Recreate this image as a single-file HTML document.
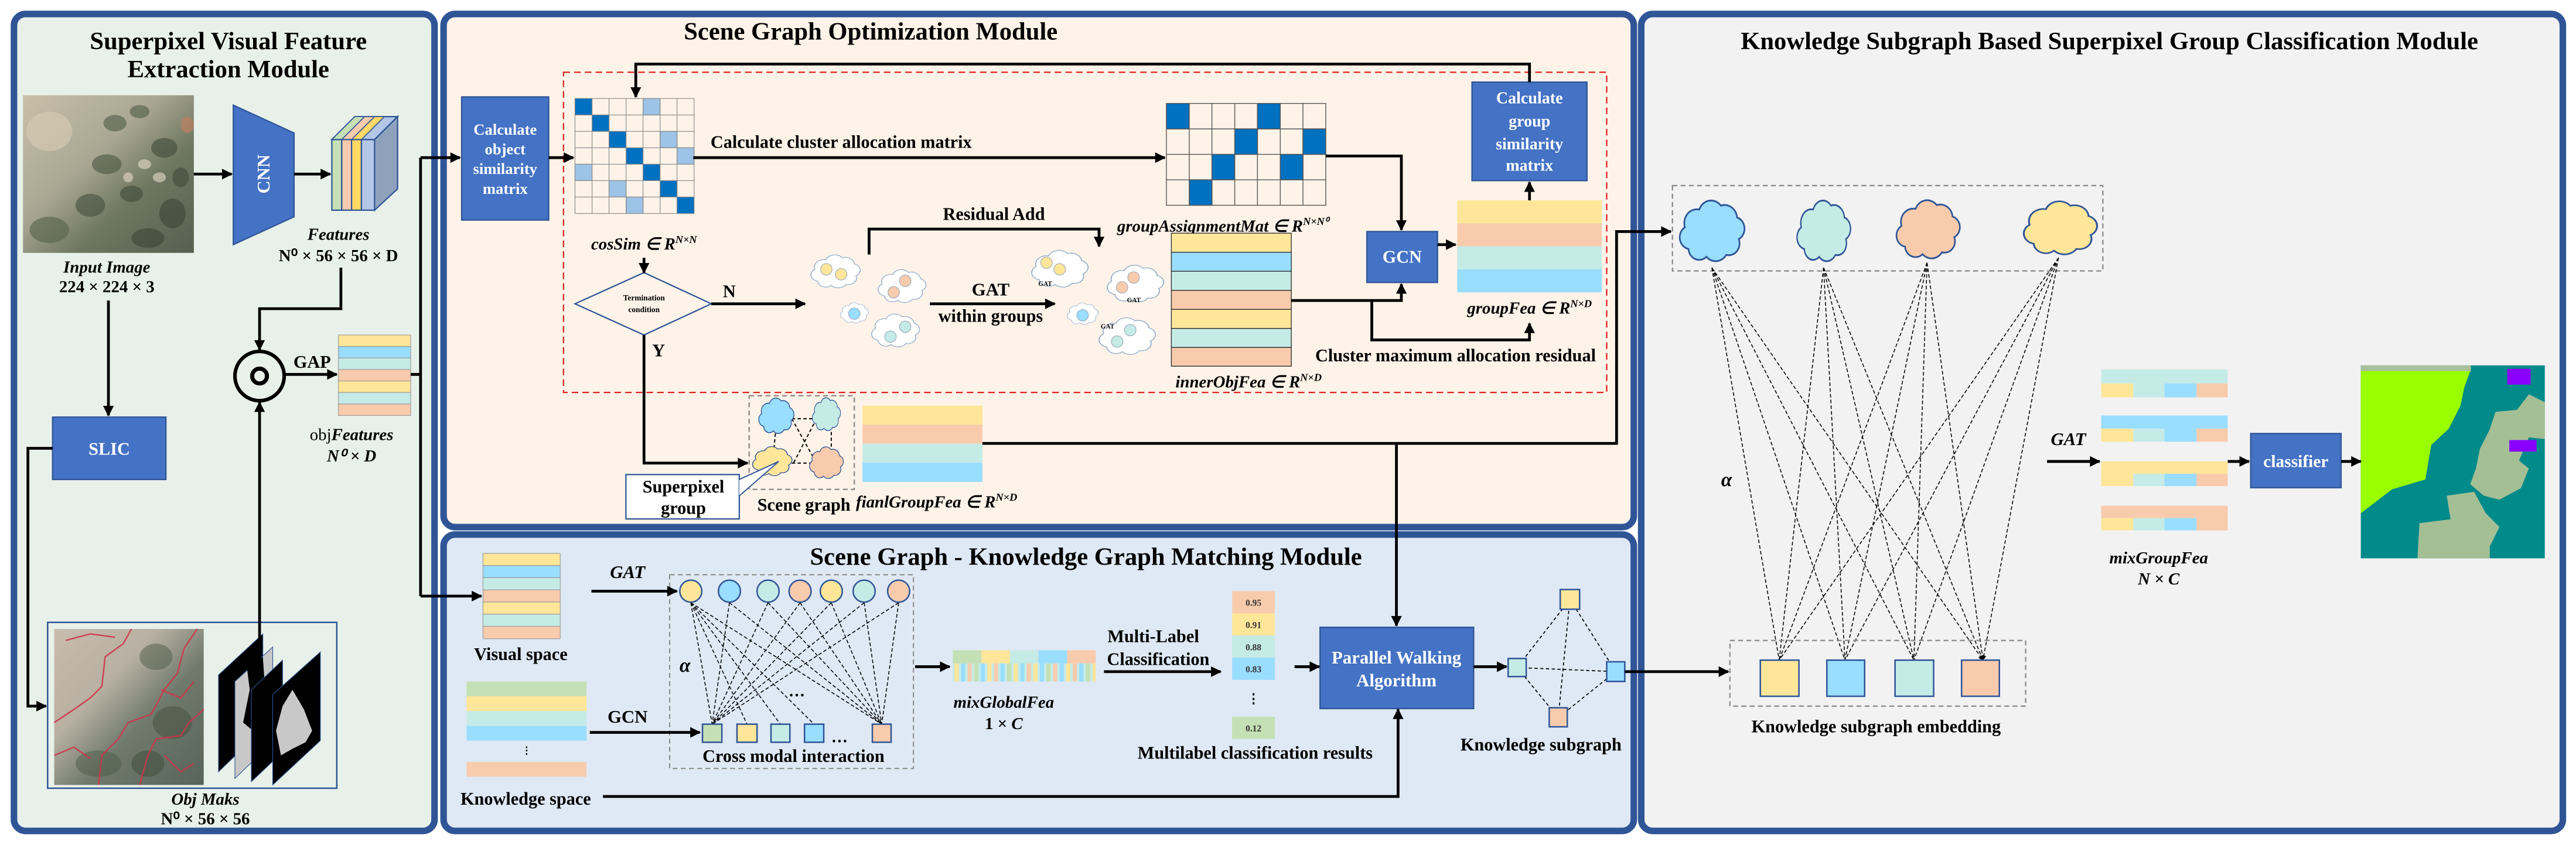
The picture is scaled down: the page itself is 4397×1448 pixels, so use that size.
<!DOCTYPE html>
<html><head><meta charset="utf-8"><style>
html,body{margin:0;padding:0;background:#fff;}
svg{display:block;}
text{font-family:"Liberation Serif",serif;font-weight:bold;}
.it{font-style:italic;}
.w{fill:#fff;}
</style></head><body>
<svg width="4397" height="1448" viewBox="0 0 1568 516.4" preserveAspectRatio="none" xmlns="http://www.w3.org/2000/svg">
<defs>
<marker id="ah" viewBox="0 0 10 10" refX="9" refY="5" markerWidth="7" markerHeight="6.5" markerUnits="userSpaceOnUse" orient="auto"><path d="M0,0 L10,5 L0,10 z" fill="#000"/></marker>
<marker id="as" viewBox="0 0 10 10" refX="9" refY="5" markerWidth="3.5" markerHeight="3" markerUnits="userSpaceOnUse" orient="auto"><path d="M0,0 L10,5 L0,10 z" fill="#000"/></marker>
<symbol id="cloud" viewBox="0 0 42 40" preserveAspectRatio="none"><path d="M8,28 a6,6 0 0,1 -2,-11 a7,7 0 0,1 8,-9 a7,7 0 0,1 12,-2 a7,7 0 0,1 9,6 a6,6 0 0,1 1,11 a6,6 0 0,1 -7,8 a7,7 0 0,1 -11,1 a6,6 0 0,1 -10,-4 z"/></symbol>
<linearGradient id="aer" x1="0" y1="0" x2="1" y2="1"><stop offset="0" stop-color="#C9BFA8"/><stop offset="0.4" stop-color="#A9A793"/><stop offset="0.65" stop-color="#6E7761"/><stop offset="1" stop-color="#56604F"/></linearGradient>
<linearGradient id="aer2" x1="0" y1="0" x2="1" y2="1"><stop offset="0" stop-color="#C8BCAE"/><stop offset="0.35" stop-color="#B8B0A2"/><stop offset="0.6" stop-color="#6F7A6C"/><stop offset="1" stop-color="#58645A"/></linearGradient>
</defs>

<!-- Panels -->
<rect x="8.5" y="8.5" width="256" height="497.5" rx="7" fill="#E8F1E9" stroke="#2F5597" stroke-width="4"/>
<rect x="270" y="8.5" width="724.5" height="312.5" rx="7" fill="#FDF3E8" stroke="#2F5597" stroke-width="4"/>
<rect x="270" y="325.5" width="724.5" height="180.5" rx="7" fill="#DEE9F5" stroke="#2F5597" stroke-width="4"/>
<rect x="999" y="8.5" width="561" height="497.5" rx="7" fill="#F2F2F2" stroke="#2F5597" stroke-width="4"/>

<!-- Titles -->
<text x="139" y="30" font-size="15.2" text-anchor="middle">Superpixel  Visual Feature</text>
<text x="139" y="47" font-size="15.2" text-anchor="middle">Extraction Module</text>
<text x="530" y="24" font-size="15.2" text-anchor="middle">Scene Graph Optimization Module</text>
<text x="661" y="344" font-size="15.2" text-anchor="middle">Scene Graph - Knowledge Graph Matching Module</text>
<text x="1284" y="30" font-size="15.2" text-anchor="middle">Knowledge Subgraph Based Superpixel Group Classification Module</text>

<!-- ===== Panel 1 ===== -->
<rect x="14" y="58" width="104" height="96" fill="url(#aer)"/>
<g opacity="0.6">
<ellipse cx="70" cy="75" rx="7" ry="5" fill="#4F5C48"/><ellipse cx="85" cy="68" rx="6" ry="4" fill="#4F5C48"/>
<ellipse cx="100" cy="90" rx="8" ry="6" fill="#3F4B3A"/><ellipse cx="65" cy="100" rx="9" ry="6" fill="#4A5643"/>
<ellipse cx="80" cy="118" rx="7" ry="5" fill="#3F4B3A"/><ellipse cx="55" cy="125" rx="9" ry="7" fill="#45503F"/>
<ellipse cx="105" cy="130" rx="8" ry="9" fill="#3A4636"/><ellipse cx="30" cy="140" rx="12" ry="8" fill="#55604C"/>
<ellipse cx="90" cy="145" rx="10" ry="6" fill="#3A4636"/><ellipse cx="110" cy="108" rx="5" ry="6" fill="#3F4B3A"/>
<ellipse cx="88" cy="100" rx="4" ry="3" fill="#E6DCC8"/><ellipse cx="97" cy="108" rx="4" ry="3" fill="#E6DCC8"/>
<ellipse cx="78" cy="108" rx="3" ry="3" fill="#E6DCC8"/><ellipse cx="30" cy="80" rx="14" ry="12" fill="#D8CDB5"/>
<ellipse cx="114" cy="76" rx="4" ry="5" fill="#C88060"/>
</g>
<text x="65" y="166" font-size="10.3" text-anchor="middle" class="it">Input Image</text>
<text x="65" y="178" font-size="10.3" text-anchor="middle">224 × 224 × 3</text>

<polygon points="142,64 179,81 179,132 142,149" fill="#4472C4" stroke="#2F5597" stroke-width="0.8"/>
<text x="0" y="0" font-size="11" class="w" text-anchor="middle" dominant-baseline="central" transform="translate(160.5,106) rotate(-90)" font-weight="normal">CNN</text>

<!-- features block -->
<polygon points="202,85 216,71 242,71 228,85" fill="#B4C7E7" stroke="#2F5597" stroke-width="0.8"/>
<polygon points="202,85 216,71 222,71 208,85" fill="#C5E0B4" stroke="#2F5597" stroke-width="0.6"/>
<polygon points="208,85 222,71 228,71 214,85" fill="#F8CBAD" stroke="#2F5597" stroke-width="0.6"/>
<polygon points="214,85 228,71 234,71 220,85" fill="#FFD966" stroke="#2F5597" stroke-width="0.6"/>
<polygon points="228,85 242,71 242,115 228,128" fill="#8EA1BD" stroke="#2F5597" stroke-width="0.8"/>
<rect x="202" y="85" width="6" height="43" fill="#C5E0B4" stroke="#2F5597" stroke-width="0.8"/>
<rect x="208" y="85" width="6" height="43" fill="#F8CBAD" stroke="#2F5597" stroke-width="0.8"/>
<rect x="214" y="85" width="6" height="43" fill="#FFD966" stroke="#2F5597" stroke-width="0.8"/>
<rect x="220" y="85" width="8" height="43" fill="#B4C7E7" stroke="#2F5597" stroke-width="0.8"/>
<text x="206" y="146" font-size="10.3" text-anchor="middle" class="it">Features</text>
<text x="206" y="159" font-size="10.3" text-anchor="middle" font-weight="normal">N⁰ × 56 × 56 × D</text>

<circle cx="158" cy="229" r="15" fill="none" stroke="#000" stroke-width="2.2"/>
<circle cx="158" cy="229" r="4.5" fill="none" stroke="#000" stroke-width="2.5"/>
<text x="190" y="224" font-size="10.8" text-anchor="middle">GAP</text>

<g stroke="#999" stroke-width="0.4">
<rect x="206" y="204" width="44" height="7" fill="#FFE699"/><rect x="206" y="211" width="44" height="7" fill="#99DDFF"/>
<rect x="206" y="218" width="44" height="7" fill="#C5EBE6"/><rect x="206" y="225" width="44" height="7" fill="#F8CBAD"/>
<rect x="206" y="232" width="44" height="7" fill="#FFE699"/><rect x="206" y="239" width="44" height="7" fill="#C5EBE6"/>
<rect x="206" y="246" width="44" height="7" fill="#F8CBAD"/>
</g>
<text x="214" y="268" font-size="10.3" text-anchor="middle"><tspan font-weight="normal">obj</tspan><tspan class="it">Features</tspan></text>
<text x="214" y="281" font-size="10.3" text-anchor="middle" class="it">N⁰ × D</text>

<rect x="32" y="254" width="69" height="38" fill="#4472C4" stroke="#2F5597" stroke-width="0.8"/>
<text x="66.5" y="277" font-size="10.8" text-anchor="middle" class="w">SLIC</text>

<rect x="29" y="379" width="176" height="101" fill="none" stroke="#2F5597" stroke-width="0.9"/>
<rect x="33" y="383" width="91" height="95" fill="url(#aer2)"/>
<g opacity="0.5">
<ellipse cx="95" cy="400" rx="10" ry="8" fill="#4F5C48"/><ellipse cx="105" cy="440" rx="12" ry="10" fill="#45503F"/>
<ellipse cx="60" cy="465" rx="14" ry="8" fill="#4F5C48"/><ellipse cx="90" cy="465" rx="10" ry="8" fill="#3F4B3A"/>
</g>
<g fill="none" stroke="#D0334A" stroke-width="0.9" opacity="0.85">
<path d="M33,440 L45,432 L55,425 L62,418 L64,400 L75,392 L80,383"/>
<path d="M60,478 L62,460 L72,450 L78,440 L92,435 L100,420 L108,410 L112,395 L120,383"/>
<path d="M85,478 L90,460 L95,450 L110,448 L115,440 L124,432"/>
<path d="M40,390 L55,386 L70,388"/><path d="M98,420 L110,425 L118,415"/>
<path d="M33,460 L45,455 L55,462"/><path d="M100,460 L110,470 L118,465"/>
</g>
<g>
<polygon points="133,411 160,386 160,444 133,470" fill="#000" stroke="#2F5597" stroke-width="0.4"/>
<polygon points="143,415 166,394 166,452 143,474" fill="#C8C8C8" stroke="#2F5597" stroke-width="0.4"/>
<path d="M150,404 L160,400 L162,430 L154,445 L148,440 L152,420 Z" fill="#000"/>
<polygon points="153,420 172,402 172,458 153,476" fill="#000" stroke="#2F5597" stroke-width="0.4"/>
<polygon points="166,423 195,397 195,451 166,478" fill="#000" stroke="#2F5597" stroke-width="0.4"/>
<path d="M172,430 L178,420 L185,432 L190,445 L186,452 L178,456 L171,460 L168,445 Z" fill="#C8C8C8"/>
</g>
<text x="125" y="490" font-size="10.3" text-anchor="middle" class="it">Obj Maks</text>
<text x="125" y="502" font-size="10.3" text-anchor="middle" font-weight="normal">N⁰ × 56 × 56</text>

<!-- panel1 connectors -->
<g fill="none" stroke="#000" stroke-width="1.7">
<path d="M118,106 H141" marker-end="url(#ah)"/>
<path d="M179,106 H201" marker-end="url(#ah)"/>
<path d="M207.5,163 V188 H158 V213" marker-end="url(#ah)"/>
<path d="M158,390 V245" marker-end="url(#ah)"/>
<path d="M173,228 H205" marker-end="url(#ah)"/>
<path d="M66,183 V253" marker-end="url(#ah)"/>
<path d="M32,273 H17 V430 H28" marker-end="url(#ah)"/>
<path d="M250,228 H256"/>
<path d="M256,96 V363"/>
<path d="M256,96 H280" marker-end="url(#ah)"/>
<path d="M256,363 H293" marker-end="url(#ah)"/>
</g>

<!-- ===== Panel 2 ===== -->
<rect x="281" y="59" width="53" height="75" fill="#4472C4" stroke="#2F5597" stroke-width="0.8"/>
<g font-size="9.5" text-anchor="middle" class="w">
<text x="307.5" y="82" fill="#fff">Calculate</text><text x="307.5" y="94" fill="#fff">object</text>
<text x="307.5" y="106" fill="#fff">similarity</text><text x="307.5" y="118" fill="#fff">matrix</text>
</g>
<rect x="343" y="44" width="635" height="195" fill="none" stroke="#E02020" stroke-width="0.8" stroke-dasharray="4,2.5"/>

<!-- cosSim matrix -->
<g stroke="#888" stroke-width="0.4">
<rect x="350" y="60" width="72.5" height="70" fill="#FDF3E8"/>
<rect x="350" y="60" width="10.36" height="10" fill="#0070C0"/>
<rect x="391.4" y="60" width="10.36" height="10" fill="#9DC3E6"/>
<rect x="360.4" y="70" width="10.36" height="10" fill="#0070C0"/>
<rect x="370.7" y="80" width="10.36" height="10" fill="#0070C0"/>
<rect x="401.8" y="80" width="10.36" height="10" fill="#9DC3E6"/>
<rect x="381.1" y="90" width="10.36" height="10" fill="#0070C0"/>
<rect x="412.1" y="90" width="10.36" height="10" fill="#9DC3E6"/>
<rect x="350" y="100" width="10.36" height="10" fill="#9DC3E6"/>
<rect x="391.4" y="100" width="10.36" height="10" fill="#0070C0"/>
<rect x="370.7" y="110" width="10.36" height="10" fill="#9DC3E6"/>
<rect x="401.8" y="110" width="10.36" height="10" fill="#0070C0"/>
<rect x="381.1" y="120" width="10.36" height="10" fill="#9DC3E6"/>
<rect x="412.1" y="120" width="10.36" height="10" fill="#0070C0"/>
<path d="M360.4,60V130M370.7,60V130M381.1,60V130M391.4,60V130M401.8,60V130M412.1,60V130M350,70H422.5M350,80H422.5M350,90H422.5M350,100H422.5M350,110H422.5M350,120H422.5" fill="none"/>
</g>
<text x="392" y="152" font-size="10.3" text-anchor="middle" class="it">cosSim ∈ R<tspan font-size="6.5" dy="-4">N×N</tspan></text>

<polygon points="350,185 392,166 433,185 392,204" fill="#FDF3E8" stroke="#2F5597" stroke-width="0.8"/>
<text x="392" y="183" font-size="4.8" text-anchor="middle" font-weight="normal">Termination</text>
<text x="392" y="190" font-size="4.8" text-anchor="middle" font-weight="normal">condition</text>
<text x="440" y="181" font-size="10.8">N</text>
<text x="397" y="217" font-size="10.8">Y</text>

<text x="512" y="90" font-size="10.8" text-anchor="middle">Calculate cluster allocation matrix</text>

<!-- group assignment mat -->
<g stroke="#555" stroke-width="0.5">
<rect x="710" y="63" width="97" height="62" fill="#FDF3E8"/>
<rect x="710" y="63" width="13.86" height="15.5" fill="#0070C0"/>
<rect x="765.4" y="63" width="13.86" height="15.5" fill="#0070C0"/>
<rect x="751.6" y="78.5" width="13.86" height="15.5" fill="#0070C0"/>
<rect x="793.1" y="78.5" width="13.86" height="15.5" fill="#0070C0"/>
<rect x="737.7" y="94" width="13.86" height="15.5" fill="#0070C0"/>
<rect x="779.3" y="94" width="13.86" height="15.5" fill="#0070C0"/>
<rect x="723.9" y="109.5" width="13.86" height="15.5" fill="#0070C0"/>
<path d="M723.9,63V125M737.7,63V125M751.6,63V125M765.4,63V125M779.3,63V125M793.1,63V125M710,78.5H807M710,94H807M710,109.5H807" fill="none"/>
</g>
<text x="680" y="141" font-size="10.3" class="it">groupAssignmentMat  ∈ R<tspan font-size="6.5" dy="-4">N×N⁰</tspan></text>

<rect x="832" y="141" width="43" height="31" fill="#4472C4" stroke="#2F5597" stroke-width="0.8"/>
<text x="853.5" y="160" font-size="10.8" text-anchor="middle" fill="#fff">GCN</text>

<rect x="887" y="122" width="88" height="14" fill="#FFE699"/>
<rect x="887" y="136" width="88" height="14" fill="#F8CBAD"/>
<rect x="887" y="150" width="88" height="14" fill="#C5EBE6"/>
<rect x="887" y="164" width="88" height="14" fill="#99DDFF"/>
<text x="931" y="191" font-size="10.3" text-anchor="middle" class="it">groupFea ∈ R<tspan font-size="6.5" dy="-4">N×D</tspan></text>

<rect x="896" y="50" width="70" height="60" fill="#4472C4" stroke="#2F5597" stroke-width="0.8"/>
<g font-size="10" text-anchor="middle">
<text x="931" y="63" fill="#fff">Calculate</text><text x="931" y="77" fill="#fff">group</text>
<text x="931" y="91" fill="#fff">similarity</text><text x="931" y="104" fill="#fff">matrix</text>
</g>

<text x="605" y="134" font-size="10.8" text-anchor="middle">Residual Add</text>
<text x="603" y="180" font-size="11" text-anchor="middle">GAT</text>
<text x="603" y="196" font-size="10.8" text-anchor="middle">within groups</text>

<!-- small clouds -->
<g stroke="#8AA5C8" stroke-width="0.6">
<use href="#cloud" x="491" y="153" width="35" height="26" fill="#fff"/>
<use href="#cloud" x="532" y="162" width="34" height="26" fill="#fff"/>
<use href="#cloud" x="510" y="183" width="20" height="16" fill="#fff"/>
<use href="#cloud" x="528" y="189" width="34" height="26" fill="#fff"/>
<use href="#cloud" x="625" y="150" width="40" height="29" fill="#fff"/>
<use href="#cloud" x="671" y="159" width="40" height="29" fill="#fff"/>
<use href="#cloud" x="648" y="183" width="22" height="17" fill="#fff"/>
<use href="#cloud" x="666" y="191" width="40" height="29" fill="#fff"/>
</g>
<g stroke="#9AA8B8" stroke-width="0.4">
<circle cx="503" cy="164" r="3.5" fill="#FFE699"/><circle cx="512" cy="167" r="3.5" fill="#FFE699"/>
<circle cx="551" cy="171" r="3.5" fill="#F8CBAD"/><circle cx="544" cy="178" r="3.5" fill="#F8CBAD"/>
<circle cx="520" cy="191" r="3.5" fill="#99DDFF"/>
<circle cx="551" cy="199" r="3.5" fill="#C5EBE6"/><circle cx="542" cy="205" r="3.5" fill="#C5EBE6"/>
<circle cx="637" cy="160" r="3.5" fill="#FFE699"/><circle cx="645" cy="164" r="3.5" fill="#FFE699"/>
<circle cx="690" cy="169" r="3.5" fill="#F8CBAD"/><circle cx="683" cy="175" r="3.5" fill="#F8CBAD"/>
<circle cx="659" cy="192" r="3.5" fill="#99DDFF"/>
<circle cx="688" cy="201" r="3.5" fill="#C5EBE6"/><circle cx="680" cy="208" r="3.5" fill="#C5EBE6"/>
</g>
<g font-family="Liberation Sans, sans-serif" font-size="4" font-weight="normal">
<text x="632" y="174">GAT</text><text x="686" y="184">GAT</text><text x="670" y="200">GAT</text>
</g>

<!-- innerObjFea -->
<g stroke="#333" stroke-width="0.5">
<rect x="713" y="142" width="73" height="11.6" fill="#FFE699"/><rect x="713" y="153.6" width="73" height="11.6" fill="#99DDFF"/>
<rect x="713" y="165.2" width="73" height="11.6" fill="#C5EBE6"/><rect x="713" y="176.8" width="73" height="11.6" fill="#F8CBAD"/>
<rect x="713" y="188.4" width="73" height="11.6" fill="#FFE699"/><rect x="713" y="200" width="73" height="11.6" fill="#C5EBE6"/>
<rect x="713" y="211.6" width="73" height="11.4" fill="#F8CBAD"/>
</g>
<text x="760" y="236" font-size="10.3" text-anchor="middle" class="it">innerObjFea ∈ R<tspan font-size="6.5" dy="-4">N×D</tspan></text>
<text x="886" y="220" font-size="10.8" text-anchor="middle">Cluster maximum allocation residual</text>

<!-- scene graph box -->
<rect x="456" y="241" width="64" height="57" fill="none" stroke="#888" stroke-width="0.8" stroke-dasharray="3,2"/>
<g stroke="#000" stroke-width="0.7" stroke-dasharray="2,1.5" fill="none">
<path d="M482,255 H497 M482,282 H496 M482,255 L497,282 M497,255 L483,282 M472,264 L471,274 M506,263 L506,273"/>
</g>
<g stroke="#2F5597" stroke-width="0.8">
<use href="#cloud" x="460" y="240" width="25" height="28" fill="#99DDFF"/>
<use href="#cloud" x="493" y="240" width="20" height="26" fill="#C5EBE6"/>
<use href="#cloud" x="456" y="270" width="28" height="23" fill="#FFE699"/>
<use href="#cloud" x="491" y="270" width="24" height="25" fill="#F8CBAD"/>
</g>
<rect x="381" y="289" width="69" height="27" fill="#fff" stroke="#2F5597" stroke-width="0.8"/>
<path d="M450,292 L474,281 L450,302" fill="#fff" stroke="#2F5597" stroke-width="0.7"/>
<text x="416" y="300" font-size="10.8" text-anchor="middle">Superpixel</text>
<text x="416" y="313" font-size="10.8" text-anchor="middle">group</text>
<text x="461" y="311" font-size="10.8">Scene graph</text>
<text x="521" y="309" font-size="10.3" class="it">fianlGroupFea ∈ R<tspan font-size="6.5" dy="-4">N×D</tspan></text>
<rect x="525" y="247" width="73" height="11.6" fill="#FFE699"/>
<rect x="525" y="258.6" width="73" height="11.6" fill="#F8CBAD"/>
<rect x="525" y="270.2" width="73" height="11.6" fill="#C5EBE6"/>
<rect x="525" y="281.8" width="73" height="11.7" fill="#99DDFF"/>

<!-- panel2 connectors -->
<g fill="none" stroke="#000" stroke-width="1.7">
<path d="M334,96 H349" marker-end="url(#ah)"/>
<path d="M422,96 H709" marker-end="url(#ah)"/>
<path d="M807,95 H853 V140" marker-end="url(#ah)"/>
<path d="M875,149 H886" marker-end="url(#ah)"/>
<path d="M931,122 V111" marker-end="url(#ah)"/>
<path d="M931,50 V39 H387 V59" marker-end="url(#ah)"/>
<path d="M392,157 V166" marker-end="url(#ah)"/>
<path d="M433,185 H490" marker-end="url(#ah)"/>
<path d="M392,204 V282 H455" marker-end="url(#ah)"/>
<path d="M529,155 V139.5 H669 V150" marker-end="url(#ah)"/>
<path d="M566,185 H642" marker-end="url(#ah)"/>
<path d="M786,183 H853 V173" marker-end="url(#ah)"/>
<path d="M835,183 V207 H931 V197" marker-end="url(#ah)"/>
<path d="M598,270 H984 V141 H1017" marker-end="url(#ah)"/>
<path d="M850,270 V381" marker-end="url(#ah)"/>
</g>

<!-- ===== Panel 3 ===== -->
<g stroke="#999" stroke-width="0.4">
<rect x="294" y="337" width="47" height="7.4" fill="#FFE699"/><rect x="294" y="344.4" width="47" height="7.4" fill="#99DDFF"/>
<rect x="294" y="351.8" width="47" height="7.4" fill="#C5EBE6"/><rect x="294" y="359.2" width="47" height="7.4" fill="#F8CBAD"/>
<rect x="294" y="366.6" width="47" height="7.4" fill="#FFE699"/><rect x="294" y="374" width="47" height="7.4" fill="#C5EBE6"/>
<rect x="294" y="381.4" width="47" height="7.6" fill="#F8CBAD"/>
</g>
<text x="317" y="402" font-size="10.8" text-anchor="middle">Visual space</text>
<text x="382" y="352" font-size="11" text-anchor="middle" class="it">GAT</text>
<text x="382" y="440" font-size="11" text-anchor="middle">GCN</text>

<rect x="284" y="415" width="73" height="9" fill="#C5E0B4"/>
<rect x="284" y="424" width="73" height="9" fill="#FFE699"/>
<rect x="284" y="433" width="73" height="9" fill="#C5EBE6"/>
<rect x="284" y="442" width="73" height="9" fill="#99DDFF"/>
<text x="320.5" y="459" font-size="6" text-anchor="middle" font-weight="normal">⋮</text>
<rect x="284" y="464" width="73" height="9" fill="#F8CBAD"/>
<text x="320" y="490" font-size="10.8" text-anchor="middle">Knowledge space</text>

<rect x="407.6" y="350" width="148.4" height="118" fill="none" stroke="#888" stroke-width="0.7" stroke-dasharray="3,2"/>
<g stroke="#000" stroke-width="0.55" stroke-dasharray="2.2,1.3" fill="none">
<path d="M420.5,367 L433.5,441 M420.5,367 L454.7,441 M420.5,367 L475,441 M420.5,367 L495.5,441 M420.5,367 L536.7,441"/>
<path d="M444,367 L433.5,441 M467.5,367 L433.5,441 M487,367 L433.5,441 M506,367 L433.5,441 M526,367 L433.5,441 M547,367 L433.5,441"/>
<path d="M444,367 L536.7,441 M467.5,367 L536.7,441 M487,367 L536.7,441 M506,367 L536.7,441 M526,367 L536.7,441 M547,367 L536.7,441"/>
</g>
<g stroke="#2F5597" stroke-width="0.9">
<circle cx="420.5" cy="360" r="6.7" fill="#FFE699"/><circle cx="444" cy="360" r="6.7" fill="#99DDFF"/>
<circle cx="467.5" cy="360" r="6.7" fill="#C5EBE6"/><circle cx="487" cy="360" r="6.7" fill="#F8CBAD"/>
<circle cx="506" cy="360" r="6.7" fill="#FFE699"/><circle cx="526" cy="360" r="6.7" fill="#C5EBE6"/>
<circle cx="547" cy="360" r="6.7" fill="#F8CBAD"/>
<rect x="427.6" y="441" width="11.8" height="11" fill="#C5E0B4"/>
<rect x="448.6" y="441" width="12.2" height="11" fill="#FFE699"/>
<rect x="469.3" y="441" width="11.5" height="11" fill="#C5EBE6"/>
<rect x="489.7" y="441" width="11.7" height="11" fill="#99DDFF"/>
<rect x="531" y="441" width="11.4" height="11" fill="#F8CBAD"/>
</g>
<text x="417" y="409" font-size="12" text-anchor="middle" class="it">α</text>
<text x="485" y="424" font-size="10" text-anchor="middle">…</text>
<text x="511" y="452" font-size="10" text-anchor="middle">…</text>
<text x="483" y="464" font-size="10.8" text-anchor="middle">Cross modal interaction</text>

<!-- mixGlobalFea -->
<rect x="580" y="396" width="17.4" height="8" fill="#C5E0B4"/><rect x="597.4" y="396" width="17.4" height="8" fill="#FFE699"/>
<rect x="614.8" y="396" width="17.4" height="8" fill="#C5EBE6"/><rect x="632.2" y="396" width="17.4" height="8" fill="#99DDFF"/>
<rect x="649.6" y="396" width="17.4" height="8" fill="#F8CBAD"/>
<g>
<rect x="580" y="404" width="87" height="11" fill="#C5EBE6"/>
<rect x="581" y="404" width="2.5" height="11" fill="#FFE699"/><rect x="585" y="404" width="2.5" height="11" fill="#99DDFF"/>
<rect x="589" y="404" width="2.5" height="11" fill="#F8CBAD"/><rect x="593" y="404" width="2.5" height="11" fill="#C5E0B4"/>
<rect x="597" y="404" width="2.5" height="11" fill="#99DDFF"/><rect x="601" y="404" width="2.5" height="11" fill="#FFE699"/>
<rect x="605" y="404" width="2.5" height="11" fill="#F8CBAD"/><rect x="609" y="404" width="2.5" height="11" fill="#99DDFF"/>
<rect x="613" y="404" width="2.5" height="11" fill="#C5E0B4"/><rect x="617" y="404" width="2.5" height="11" fill="#FFE699"/>
<rect x="621" y="404" width="2.5" height="11" fill="#99DDFF"/><rect x="625" y="404" width="2.5" height="11" fill="#F8CBAD"/>
<rect x="629" y="404" width="2.5" height="11" fill="#FFE699"/><rect x="633" y="404" width="2.5" height="11" fill="#99DDFF"/>
<rect x="637" y="404" width="2.5" height="11" fill="#C5E0B4"/><rect x="641" y="404" width="2.5" height="11" fill="#F8CBAD"/>
<rect x="645" y="404" width="2.5" height="11" fill="#99DDFF"/><rect x="649" y="404" width="2.5" height="11" fill="#FFE699"/>
<rect x="653" y="404" width="2.5" height="11" fill="#F8CBAD"/><rect x="657" y="404" width="2.5" height="11" fill="#99DDFF"/>
<rect x="661" y="404" width="2.5" height="11" fill="#C5E0B4"/><rect x="665" y="404" width="2" height="11" fill="#FFE699"/>
</g>
<text x="611" y="431" font-size="10.3" text-anchor="middle" class="it">mixGlobalFea</text>
<text x="611" y="444" font-size="10.3" text-anchor="middle" class="it"><tspan font-style="normal">1 × </tspan>C</text>
<text x="702" y="391" font-size="10.8" text-anchor="middle">Multi-Label</text>
<text x="705" y="405" font-size="10.8" text-anchor="middle">Classification</text>

<rect x="750" y="360" width="26" height="13.5" fill="#F8CBAD"/>
<rect x="750" y="373.5" width="26" height="13.5" fill="#FFE699"/>
<rect x="750" y="387" width="26" height="13.5" fill="#C5EBE6"/>
<rect x="750" y="400.5" width="26" height="13.5" fill="#99DDFF"/>
<rect x="750" y="436.5" width="26" height="13.5" fill="#C5E0B4"/>
<g font-size="5.5" text-anchor="middle" font-weight="normal" fill="#333">
<text x="763" y="369">0.95</text><text x="763" y="382.5">0.91</text><text x="763" y="396">0.88</text><text x="763" y="409.5">0.83</text><text x="763" y="445.5">0.12</text>
</g>
<text x="763" y="428" font-size="8" text-anchor="middle">⋮</text>
<text x="764" y="462" font-size="10.8" text-anchor="middle">Multilabel classification results</text>

<rect x="803.5" y="382" width="93.5" height="49.5" fill="#4472C4" stroke="#2F5597" stroke-width="0.8"/>
<text x="850" y="404" font-size="11" text-anchor="middle" fill="#fff">Parallel Walking</text>
<text x="850" y="418" font-size="11" text-anchor="middle" fill="#fff">Algorithm</text>

<g stroke="#000" stroke-width="0.6" stroke-dasharray="2,1.5" fill="none">
<path d="M955.6,365 L923.5,406.5 M955.6,365 L983.5,409 M955.6,365 L948.5,437 M923.5,406.5 L983.5,409 M923.5,406.5 L948.5,437 M983.5,409 L948.5,437"/>
</g>
<g stroke="#2F5597" stroke-width="0.9">
<rect x="949.7" y="359" width="11.8" height="12" fill="#FFE699"/>
<rect x="918" y="401" width="11" height="11" fill="#C5EBE6"/>
<rect x="978" y="403" width="11" height="12" fill="#99DDFF"/>
<rect x="943" y="431" width="11" height="11.6" fill="#F8CBAD"/>
</g>
<text x="938" y="457" font-size="10.8" text-anchor="middle">Knowledge subgraph</text>

<g fill="none" stroke="#000" stroke-width="1.7">
<path d="M360,360 H412" marker-end="url(#ah)"/>
<path d="M359,446 H426" marker-end="url(#ah)"/>
<path d="M367,485 H851 V432" marker-end="url(#ah)"/>
<path d="M557,406 H578" marker-end="url(#ah)"/>
<path d="M672,409 H743" marker-end="url(#ah)"/>
<path d="M788,406 H803" marker-end="url(#ah)"/>
<path d="M897,406 H917" marker-end="url(#ah)"/>
<path d="M989,409 H1052" marker-end="url(#ah)"/>
</g>

<!-- ===== Panel 4 ===== -->
<rect x="1018" y="113" width="262" height="52" fill="none" stroke="#888" stroke-width="0.8" stroke-dasharray="3,2"/>
<g stroke="#000" stroke-width="0.55" stroke-dasharray="2.2,1.3" fill="none" marker-end="url(#as)">
<path d="M1042,163 L1083,402 M1042,163 L1123,402 M1042,163 L1165,402 M1042,163 L1207,402"/>
<path d="M1110,163 L1083,402 M1110,163 L1123,402 M1110,163 L1165,402 M1110,163 L1207,402"/>
<path d="M1173,160 L1083,402 M1173,160 L1123,402 M1173,160 L1165,402 M1173,160 L1207,402"/>
<path d="M1253,157 L1083,402 M1253,157 L1123,402 M1253,157 L1165,402 M1253,157 L1207,402"/>
</g>
<g stroke="#2F5597" stroke-width="0.9">
<use href="#cloud" x="1019" y="118" width="46" height="48" fill="#99DDFF"/>
<use href="#cloud" x="1091" y="118" width="38" height="48" fill="#C5EBE6"/>
<use href="#cloud" x="1151" y="118" width="45" height="46" fill="#F8CBAD"/>
<use href="#cloud" x="1228" y="119" width="52" height="42" fill="#FFE699"/>
</g>
<text x="1051" y="296" font-size="12" text-anchor="middle" class="it">α</text>

<rect x="1053" y="390" width="180" height="40" fill="none" stroke="#888" stroke-width="0.8" stroke-dasharray="3,2"/>
<g stroke="#2F5597" stroke-width="0.9">
<rect x="1071.5" y="402" width="23.5" height="22" fill="#FFE699"/>
<rect x="1112" y="402" width="23" height="22" fill="#99DDFF"/>
<rect x="1153.5" y="402" width="23.5" height="22" fill="#C5EBE6"/>
<rect x="1194" y="402" width="23" height="22" fill="#F8CBAD"/>
</g>
<text x="1142" y="446" font-size="10.8" text-anchor="middle">Knowledge subgraph embedding</text>

<text x="1259" y="271" font-size="11" text-anchor="middle" class="it">GAT</text>
<!-- mixGroupFea bars -->
<g>
<rect x="1279" y="225" width="77" height="8.5" fill="#C5EBE6"/>
<rect x="1279" y="233.5" width="19.5" height="8.5" fill="#FFE699"/><rect x="1298.5" y="233.5" width="19" height="8.5" fill="#C5EBE6"/>
<rect x="1317.5" y="233.5" width="19.5" height="8.5" fill="#99DDFF"/><rect x="1337" y="233.5" width="19" height="8.5" fill="#F8CBAD"/>
<rect x="1279" y="253" width="77" height="8" fill="#99DDFF"/>
<rect x="1279" y="261" width="19.5" height="8" fill="#FFE699"/><rect x="1298.5" y="261" width="19" height="8" fill="#C5EBE6"/>
<rect x="1317.5" y="261" width="19.5" height="8" fill="#99DDFF"/><rect x="1337" y="261" width="19" height="8" fill="#F8CBAD"/>
<rect x="1279" y="281" width="77" height="7.5" fill="#FFE699"/>
<rect x="1279" y="288.5" width="19.5" height="7.5" fill="#FFE699"/><rect x="1298.5" y="288.5" width="19" height="7.5" fill="#C5EBE6"/>
<rect x="1317.5" y="288.5" width="19.5" height="7.5" fill="#99DDFF"/><rect x="1337" y="288.5" width="19" height="7.5" fill="#F8CBAD"/>
<rect x="1279" y="308" width="77" height="7.5" fill="#F8CBAD"/>
<rect x="1279" y="315.5" width="19.5" height="7.5" fill="#FFE699"/><rect x="1298.5" y="315.5" width="19" height="7.5" fill="#C5EBE6"/>
<rect x="1317.5" y="315.5" width="19.5" height="7.5" fill="#99DDFF"/><rect x="1337" y="315.5" width="19" height="7.5" fill="#F8CBAD"/>
</g>
<text x="1314" y="343" font-size="10.3" text-anchor="middle" class="it">mixGroupFea</text>
<text x="1314" y="356" font-size="10.3" text-anchor="middle" class="it">N × C</text>

<rect x="1370" y="264" width="55" height="33" fill="#4472C4" stroke="#2F5597" stroke-width="0.8"/>
<text x="1397.5" y="284.5" font-size="10.5" text-anchor="middle" fill="#fff">classifier</text>

<!-- result map -->
<rect x="1437" y="222.5" width="112" height="117.5" fill="#008A8A"/>
<rect x="1437" y="222.5" width="67" height="4" fill="#A9C09C"/>
<polygon points="1437,226 1503.6,226 1500,236 1497.7,247 1490.6,261 1479.9,271 1476.3,292 1456,298 1437,312.6" fill="#99FF00"/>
<polygon points="1539.3,240.1 1549,244.9 1549,267.4 1539.3,266.3 1533.3,280.5 1539.3,285.3 1534.5,297.2 1521.4,304.3 1511.9,301.9 1503.6,294.8 1507.1,285.3 1509.5,273.4 1515.5,261.5 1519,250.8 1532.1,249.6" fill="#A5BF95"/>
<polygon points="1489.3,301.9 1506,299.5 1513.1,312.6 1521.4,320.9 1515.5,332.8 1515.5,340 1471.5,340 1472.7,318.6 1491.7,316.2" fill="#A5BF95"/>
<rect x="1526.2" y="224.6" width="14.2" height="9.6" fill="#8A00FF"/>
<rect x="1527.4" y="268" width="16.6" height="7" fill="#8A00FF"/>

<g fill="none" stroke="#000" stroke-width="1.7">
<path d="M1246,281 H1278" marker-end="url(#ah)"/>
<path d="M1356,281 H1369" marker-end="url(#ah)"/>
<path d="M1425,281 H1437" marker-end="url(#ah)"/>
</g>
</svg>
</body></html>
